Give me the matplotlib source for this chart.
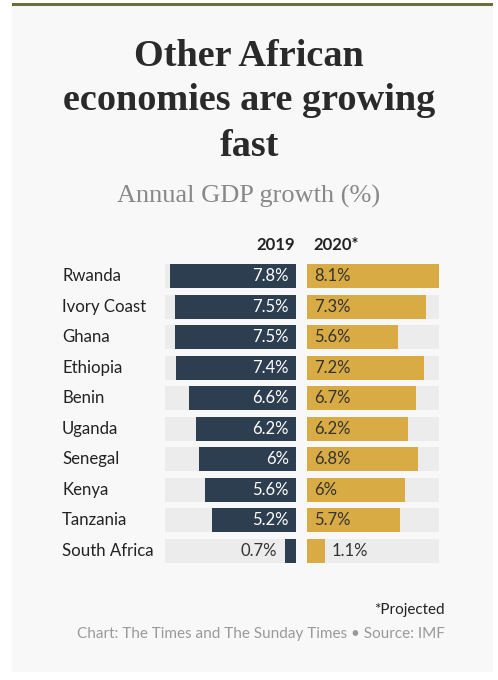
import matplotlib
matplotlib.use("Agg")
import matplotlib.pyplot as plt
from matplotlib.patches import Rectangle

countries = ["Rwanda", "Ivory Coast", "Ghana", "Ethiopia", "Benin", "Uganda",
             "Senegal", "Kenya", "Tanzania", "South Africa"]
gdp_2019 = [7.8, 7.5, 7.5, 7.4, 6.6, 6.2, 6.0, 5.6, 5.2, 0.7]
gdp_2020 = [8.1, 7.3, 5.6, 7.2, 6.7, 6.2, 6.8, 6.0, 5.7, 1.1]
labels_2019 = ["7.8%", "7.5%", "7.5%", "7.4%", "6.6%", "6.2%", "6%", "5.6%", "5.2%", "0.7%"]
labels_2020 = ["8.1%", "7.3%", "5.6%", "7.2%", "6.7%", "6.2%", "6.8%", "6%", "5.7%", "1.1%"]
series_names = ["2019", "2020*"]
title_lines = ["Other African", "economies are growing", "fast"]

W, H = 498, 680
DPI = 100
fig = plt.figure(figsize=(W / DPI, H / DPI), dpi=DPI, facecolor="white")

def fx(px):
    return px / W

def fy(py):
    return 1 - py / H

# panel background
fig.patches.append(Rectangle((fx(12), fy(672)), fx(493) - fx(12), fy(5) - fy(672),
                             transform=fig.transFigure, facecolor="#f8f8f8",
                             edgecolor="none", zorder=-10))
fig.patches.append(Rectangle((fx(12), fy(6)), fx(493) - fx(12), fy(3) - fy(6),
                             transform=fig.transFigure, facecolor="#6b6d3b",
                             edgecolor="none", zorder=-9))

NAVY = "#2c3e50"
GOLD = "#d8ab45"
TRACK = "#ececec"
SANS = ["Lato", "DejaVu Sans"]
SERIF = ["Liberation Serif", "DejaVu Serif"]

# title
for k, line in enumerate(title_lines):
    fig.text(0.5, fy(56 + 45 * k), line, ha="center", va="center",
             fontsize=27.5, fontweight="bold", family=SERIF, color="#2a2a2a")
fig.text(0.5, fy(196), "Annual GDP growth (%)", ha="center", va="center",
         fontsize=19, family=SERIF, color="#888888")

n = len(countries)
row0, pitch = 276.3, 30.5
top_px = row0 - pitch / 2
bot_px = row0 + pitch * (n - 1) + pitch / 2
vmax = max(max(gdp_2019), max(gdp_2020))

axL = fig.add_axes([fx(165), fy(bot_px), fx(296) - fx(165), fy(top_px) - fy(bot_px)])
axR = fig.add_axes([fx(307), fy(bot_px), fx(439) - fx(307), fy(top_px) - fy(bot_px)])

ys = list(range(n))
for ax in (axL, axR):
    ax.set_zorder(2)
    ax.set_ylim(n - 0.5, -0.5)
    ax.set_facecolor("none")
    ax.axis("off")
    ax.barh(ys, [vmax] * n, height=0.79, color=TRACK, zorder=1)
axL.set_xlim(vmax, 0)
axR.set_xlim(0, vmax)

axL.barh(ys, gdp_2019, height=0.79, color=NAVY, zorder=2)
axR.barh(ys, gdp_2020, height=0.79, color=GOLD, zorder=2)

for i in ys:
    v = gdp_2019[i]
    if v > 1.5:
        axL.text(0.45, i, labels_2019[i], ha="right", va="center",
                 fontsize=12, family=SANS, color="white", zorder=3)
    else:
        axL.text(v + 0.45, i, labels_2019[i], ha="right", va="center",
                 fontsize=12, family=SANS, color="#333333", zorder=3)
    w = gdp_2020[i]
    if w > 1.5:
        axR.text(0.43, i, labels_2020[i], ha="left", va="center",
                 fontsize=12, family=SANS, color="#333333", zorder=3)
    else:
        axR.text(w + 0.43, i, labels_2020[i], ha="left", va="center",
                 fontsize=12, family=SANS, color="#333333", zorder=3)
    fig.text(fx(62), fy(row0 + pitch * i), countries[i], ha="left", va="center",
             fontsize=12.1, family=SANS, color="#222222")

fig.text(fx(295), fy(245), series_names[0], ha="right", va="center", fontsize=12,
         fontweight="bold", family=SANS, color="#222222")
fig.text(fx(313), fy(245), series_names[1], ha="left", va="center", fontsize=12,
         fontweight="bold", family=SANS, color="#222222")

fig.text(fx(445), fy(610), "*Projected", ha="right", va="center", fontsize=11,
         family=SANS, color="#222222")
fig.text(fx(445), fy(634), "Chart: The Times and The Sunday Times \u2022 Source: IMF",
         ha="right", va="center", fontsize=11, family=SANS, color="#999999")

fig.savefig("out.png", dpi=DPI, facecolor="white")
